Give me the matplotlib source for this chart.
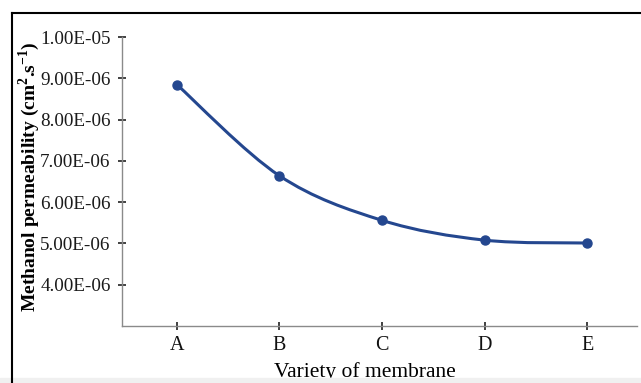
import matplotlib
matplotlib.use('Agg')
import matplotlib.pyplot as plt
import numpy as np
from matplotlib.path import Path
from matplotlib.patches import PathPatch, Rectangle
from matplotlib.lines import Line2D

# data
membranes = ['A', 'B', 'C', 'D', 'E']
permeability = [8.85e-6, 6.64e-6, 5.56e-6, 5.08e-6, 5.01e-6]
yticks = [4e-6, 5e-6, 6e-6, 7e-6, 8e-6, 9e-6, 1e-5]
yticklabels = ['4.00E-06', '5.00E-06', '6.00E-06', '7.00E-06', '8.00E-06', '9.00E-06', '1.00E-05']

plt.rcParams['font.family'] = ['Liberation Serif', 'DejaVu Serif']
plt.rcParams['mathtext.fontset'] = 'custom'
plt.rcParams['mathtext.rm'] = 'Liberation Serif'
plt.rcParams['mathtext.bf'] = 'Liberation Serif:bold'
lineColor = '#24478f'

fig = plt.figure(figsize=(6.41, 3.83), dpi=100)
ax = fig.add_axes([0.190, 0.149, 0.804, 0.754])

x = np.arange(len(membranes))
y = np.array(permeability)

# smooth line through the points (catmull-rom -> bezier segments)
verts = [(x[0], y[0])]
codes = [Path.MOVETO]
px = np.concatenate([[x[0]], x, [x[-1]]])
py = np.concatenate([[y[0]], y, [y[-1]]])
for i in range(1, len(px) - 2):
    c1 = (px[i] + (px[i + 1] - px[i - 1]) / 6, py[i] + (py[i + 1] - py[i - 1]) / 6)
    c2 = (px[i + 1] - (px[i + 2] - px[i]) / 6, py[i + 1] - (py[i + 2] - py[i]) / 6)
    verts += [c1, c2, (px[i + 1], py[i + 1])]
    codes += [Path.CURVE4] * 3
ax.add_patch(PathPatch(Path(verts, codes), facecolor='none', edgecolor=lineColor, lw=2.2))
ax.plot(x, y, 'o', color=lineColor, markersize=6.5, zorder=3)

ax.set_xlim(-0.537, 4.488)
ax.set_ylim(3e-6, 1e-5)
ax.set_xticks(x)
ax.set_xticklabels(membranes, fontsize=14.5, color='#111111')
ax.set_yticks(yticks)
ax.set_yticklabels(yticklabels, fontsize=13.8, color='#1a1a1a')

for side in ['top', 'right']:
    ax.spines[side].set_visible(False)
for side in ['left', 'bottom']:
    ax.spines[side].set_color('#8a8a8a')
    ax.spines[side].set_linewidth(1.0)
ax.tick_params(axis='both', direction='inout', length=6, width=1.3, color='#333333')
ax.tick_params(axis='y', pad=5)
ax.tick_params(axis='x', pad=4)

ax.set_xlabel('Variety of membrane', fontsize=15.5)
ax.xaxis.set_label_coords(0.472, -0.125)
ax.set_ylabel(r'Methanol permeability (cm$^{\mathbf{2}}$.s$^{\mathbf{-1}}$)', fontsize=14, fontweight='bold')
ax.yaxis.set_label_coords(-0.155, 0.517)

# frame around the picture and grey strip at the bottom
fig.patches.append(Rectangle((0, 0), 1, 5 / 383, transform=fig.transFigure, color='#f0f0f0', zorder=0))
fig.lines.append(Line2D([12 / 641, 12 / 641], [0, 1 - 13 / 383], transform=fig.transFigure, color='black', lw=1.5))
fig.lines.append(Line2D([12 / 641, 1], [1 - 13 / 383, 1 - 13 / 383], transform=fig.transFigure, color='black', lw=1.5))

fig.savefig('out.png', dpi=100)
